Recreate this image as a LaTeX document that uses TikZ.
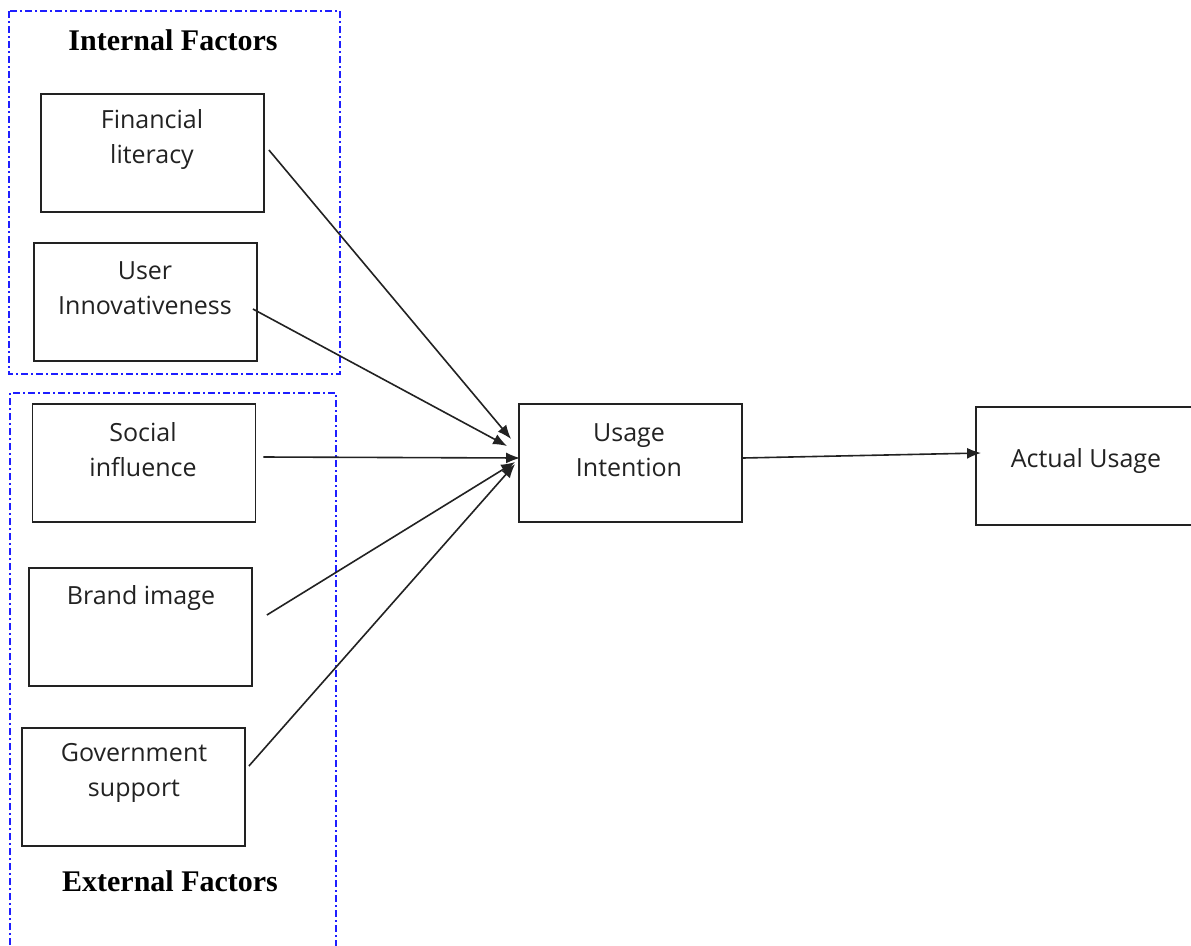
\documentclass[tikz,border=0pt]{standalone}
\usepackage{fontspec}
\setmainfont{Open Sans}
\newfontfamily\titlefont{Liberation Serif}
\usetikzlibrary{arrows.meta}
\definecolor{ink}{RGB}{34,34,34}
\definecolor{frameblue}{RGB}{30,30,255}
\tikzset{
  box/.style={draw=ink, line width=1.8pt, minimum width=223pt, minimum height=118pt, inner sep=0pt},
  lbl/.style={text=ink, align=center, font=\fontsize{25}{35}\selectfont, inner sep=0pt},
  ttl/.style={text=black, font=\titlefont\bfseries\fontsize{30}{34}\selectfont, inner sep=0pt},
  grp/.style={draw=frameblue, line width=1.4pt, dash pattern=on 7pt off 3pt on 2pt off 3pt},
  conn/.style={draw=ink, line width=1.6pt, -{Latex[length=14pt,width=11pt]}}
}
\begin{document}
\begin{tikzpicture}[x=1pt,y=-1pt]
\clip (0,0) rectangle (1191,945);
\fill[white] (0,0) rectangle (1191,945);
% group frames
\draw[grp] (9,11) rectangle (340,374);
\draw[grp] (10,960) -- (10,393) -- (336,393) -- (336,960);
\node[ttl] (tint) at (173,40) {Internal Factors};
\node[ttl] (text) at (170,881) {External Factors};
% boxes
\node[box] (fin) at (152.5,153) {};
\node[lbl] (finl) at (152,140) {Financial\\literacy};
\node[box] (usr) at (145.5,302) {};
\node[lbl] (usrl) at (145,288) {User\\Innovativeness};
\node[box] (soc) at (144,463) {};
\node[lbl] (socl) at (143,450) {Social\\influence};
\node[box] (brd) at (140.5,627) {};
\node[lbl] (brdl) at (141,598) {Brand image};
\node[box] (gov) at (133.5,787) {};
\node[lbl] (govl) at (134,773) {Government\\support};
\node[box] (ui) at (630.5,463) {};
\node[lbl] (uil) at (629,450) {Usage\\Intention};
\node[box, minimum width=230pt] (au) at (1091,466) {};
\node[lbl] (aul) at (1086,461) {Actual Usage};
% connectors
\draw[conn] ([shift={(4,-3)}]fin.east) -- ([shift={(-7,-24)}]ui.west);
\draw[conn] ([shift={(-5,7)}]usr.east) -- ([shift={(-11,-17)}]ui.west);
\draw[conn] ([shift={(7,-6)}]soc.east) -- ([shift={(2,-5)}]ui.west);
\draw[conn] ([shift={(14,-12)}]brd.east) -- ([shift={(-3,-1)}]ui.west);
\draw[conn] ([shift={(3,-21)}]gov.east) -- ([shift={(-3,1)}]ui.west);
\draw[conn] ([shift={(0,-5)}]ui.east) -- ([shift={(6,-13)}]au.west);
\end{tikzpicture}
\end{document}
